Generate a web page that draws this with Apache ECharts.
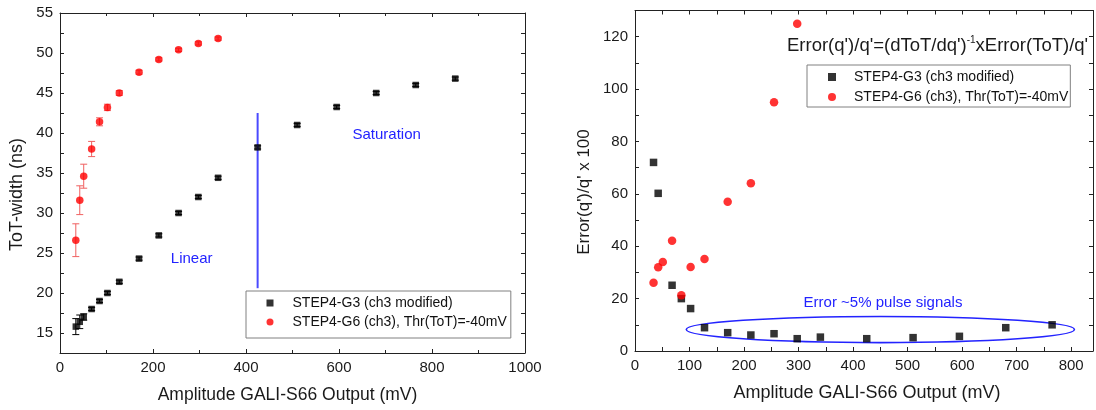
<!DOCTYPE html>
<html><head><meta charset="utf-8">
<script src="https://cdn.jsdelivr.net/npm/echarts@6/dist/echarts.min.js"></script>
<style>html,body{margin:0;padding:0;background:#fff}#c{width:1096px;height:410px}</style>
</head><body><div id="c"></div>
<script>
const seriesNames = ['STEP4-G3 (ch3 modified)', 'STEP4-G6 (ch3), Thr(ToT)=-40mV'];

// Left panel: ToT width (ns) vs amplitude (mV)
const totG3X = [34, 42.5, 51, 68, 85, 102, 127.5, 170, 212.5, 255, 297.5, 340, 425, 510, 595, 680, 765, 850];
const totG3Y = [15.8, 16.4, 17.0, 18.0, 19.0, 20.0, 21.4, 24.3, 27.2, 30.0, 32.0, 34.4, 38.2, 41.0, 43.25, 45.0, 46.0, 46.8];
const totG3Err = [1.0, 0.85, 0.4, 0.2, 0.2, 0.2, 0.2, 0.2, 0.2, 0.2, 0.2, 0.2, 0.2, 0.2, 0.2, 0.2, 0.2, 0.2];
const totG6X = [34, 42.5, 51, 68, 85, 102, 127.5, 170, 212.5, 255, 297.5, 340];
const totG6Y = [26.6, 31.6, 34.6, 38.0, 41.4, 43.2, 45.0, 47.6, 49.2, 50.4, 51.2, 51.8];
const totG6Err = [2.05, 1.8, 1.5, 0.95, 0.5, 0.4, 0.3, 0.25, 0.2, 0.2, 0.2, 0.2];
const boundaryLine = [[425, 20.6], [425, 42.5]];

// Right panel: Error(q')/q' x 100 vs amplitude (mV)
const errG3X = [34, 42.5, 68, 85, 102, 127.5, 170, 212.5, 255, 297.5, 340, 425, 510, 595, 680, 765];
const errG3Y = [72.0, 60.2, 25.1, 20.0, 16.2, 8.9, 7.0, 6.1, 6.6, 4.7, 5.3, 4.7, 5.1, 5.6, 8.9, 10.0];
const errG6X = [34, 42.5, 51, 68, 85, 102, 127.5, 170, 212.5, 255, 297.5];
const errG6Y = [26.1, 32.0, 34.0, 42.1, 21.3, 32.1, 35.1, 57.0, 64.0, 95.0, 124.9];
// ellipse: centre x, centre y, half-width, half-height (data units)
const ellipseRegion = [[450, 8.2, 356, 5.0]];

const FONT = '"Liberation Sans", Arial, sans-serif';
const BLUE = '#2323ff';
const zip = (xs, ys) => xs.map((x, i) => [x, ys[i]]);

function errorBars(xs, ys, errs, color, gi) {
  return {
    type: 'custom', xAxisIndex: gi * 2, yAxisIndex: gi * 2, silent: true, z: 1,
    data: xs.map((x, i) => [x, ys[i] - errs[i], ys[i] + errs[i]]),
    encode: { x: 0, y: [1, 2] },
    renderItem: (p, api) => {
      const lo = api.coord([api.value(0), api.value(1)]);
      const hi = api.coord([api.value(0), api.value(2)]);
      const w = 3.5, st = { stroke: color, lineWidth: 1 };
      return { type: 'group', children: [
        { type: 'line', shape: { x1: lo[0], y1: lo[1], x2: hi[0], y2: hi[1] }, style: st },
        { type: 'line', shape: { x1: lo[0] - w, y1: lo[1], x2: lo[0] + w, y2: lo[1] }, style: st },
        { type: 'line', shape: { x1: hi[0] - w, y1: hi[1], x2: hi[0] + w, y2: hi[1] }, style: st }
      ] };
    }
  };
}

function axis(base, pos, showLabel, extra) {
  return Object.assign({
    type: 'value', position: pos, scale: false,
    axisLine: { show: true, onZero: false, lineStyle: { color: '#222', width: 1 } },
    axisTick: { show: true, inside: true, length: 4, lineStyle: { color: '#222' } },
    splitLine: { show: false },
    axisLabel: { show: showLabel, fontFamily: FONT, fontSize: 15, color: '#1a1a1a' }
  }, base, extra || {});
}

const lx = { gridIndex: 0, min: 0, max: 1000, interval: 200,
  minorTick: { show: true, splitNumber: 2, length: 3, lineStyle: { color: '#222' } } };
const ly = { gridIndex: 0, min: 12.5, max: 55, interval: 2.5 };
const rx = { gridIndex: 1, min: 0, max: 840, interval: 50 };
const ry = { gridIndex: 1, min: 0, max: 130, interval: 10 };

const option = {
  animation: false,
  backgroundColor: '#fff',
  grid: [
    { left: 60, top: 13, width: 465, height: 340 },
    { left: 635, top: 10.5, width: 459, height: 340.5 }
  ],
  xAxis: [
    axis(lx, 'bottom', true, { axisLabel: { show: true, fontFamily: FONT, fontSize: 15, color: '#1a1a1a', margin: 7,
      formatter: v => String(v) } }),
    axis(lx, 'top', false),
    axis(rx, 'bottom', true, { axisLabel: { show: true, fontFamily: FONT, fontSize: 15, color: '#1a1a1a', margin: 7,
      formatter: v => (v % 100 === 0 ? String(v) : '') } }),
    axis(rx, 'top', false)
  ],
  yAxis: [
    axis(ly, 'left', true, { axisLabel: { show: true, fontFamily: FONT, fontSize: 15, color: '#1a1a1a', margin: 7,
      formatter: v => (Math.abs(v % 5) < 1e-9 ? String(v) : '') } }),
    axis(ly, 'right', false),
    axis(ry, 'left', true, { axisLabel: { show: true, fontFamily: FONT, fontSize: 15, color: '#1a1a1a', margin: 7,
      formatter: v => (v % 20 === 0 && v <= 120 ? String(v) : '') } }),
    axis(ry, 'right', false)
  ],
  legend: [
    { left: 246, top: 291, orient: 'vertical', selectedMode: false,
      itemWidth: 7, itemHeight: 7, itemGap: 5, padding: [5, 4, 9, 20.5],
      borderColor: '#808080', borderWidth: 1, backgroundColor: '#fff',
      data: [{ name: seriesNames[0], icon: 'rect' }, { name: seriesNames[1], icon: 'circle' }],
      textStyle: { fontFamily: FONT, fontSize: 14, color: '#111', lineHeight: 14, padding: [0, 0, 0, 14] } },
    { left: 807, top: 65, orient: 'vertical', selectedMode: false,
      itemWidth: 8, itemHeight: 8, itemGap: 6, padding: [5, 2, 3, 21],
      borderColor: '#808080', borderWidth: 1, backgroundColor: '#fff',
      data: [{ name: seriesNames[0], icon: 'rect' }, { name: seriesNames[1], icon: 'circle' }],
      textStyle: { fontFamily: FONT, fontSize: 14, color: '#111', lineHeight: 14, padding: [0, 0, 0, 13] } }
  ],
  series: [
    { type: 'line', xAxisIndex: 0, yAxisIndex: 0, data: boundaryLine, symbol: 'none', silent: true, z: 1,
      lineStyle: { color: '#4a4aff', width: 2 } },
    errorBars(totG3X, totG3Y, totG3Err, '#000', 0),
    errorBars(totG6X, totG6Y, totG6Err, '#f06060', 0),
    { name: seriesNames[0], type: 'scatter', xAxisIndex: 0, yAxisIndex: 0, symbol: 'rect', symbolSize: 6.5,
      itemStyle: { color: '#000' }, data: zip(totG3X, totG3Y), z: 3 },
    { name: seriesNames[1], type: 'scatter', xAxisIndex: 0, yAxisIndex: 0, symbol: 'circle', symbolSize: 7.5,
      itemStyle: { color: '#ff0000' }, data: zip(totG6X, totG6Y), z: 3 },
    { type: 'custom', xAxisIndex: 2, yAxisIndex: 2, silent: true, z: 1, data: ellipseRegion,
      encode: { x: 0, y: 1 },
      renderItem: (p, api) => {
        const c = api.coord([api.value(0), api.value(1)]);
        const s = api.size([api.value(2), api.value(3)]);
        return { type: 'ellipse', shape: { cx: c[0], cy: c[1], rx: s[0], ry: s[1] },
          style: { fill: 'none', stroke: BLUE, lineWidth: 1.6 } };
      } },
    { name: seriesNames[0], type: 'scatter', xAxisIndex: 2, yAxisIndex: 2, symbol: 'rect', symbolSize: 7.5,
      itemStyle: { color: '#000' }, data: zip(errG3X, errG3Y), z: 3 },
    { name: seriesNames[1], type: 'scatter', xAxisIndex: 2, yAxisIndex: 2, symbol: 'circle', symbolSize: 8.5,
      itemStyle: { color: '#ff0000' }, data: zip(errG6X, errG6Y), z: 3 }
  ],
  graphic: [
    { type: 'text', x: 17, y: 194.5, rotation: Math.PI / 2,
      style: { text: 'ToT-width (ns)', font: '18px ' + FONT, fill: '#1a1a1a', align: 'center', verticalAlign: 'middle' } },
    { type: 'text', x: 287.5, y: 395,
      style: { text: 'Amplitude GALI-S66 Output (mV)', font: '17.5px ' + FONT, fill: '#1a1a1a', align: 'center', verticalAlign: 'middle' } },
    { type: 'text', x: 584.5, y: 192, rotation: Math.PI / 2,
      style: { text: "Error(q')/q' x 100", font: '17px ' + FONT, fill: '#1a1a1a', align: 'center', verticalAlign: 'middle' } },
    { type: 'text', x: 867, y: 393,
      style: { text: 'Amplitude GALI-S66 Output (mV)', font: '18px ' + FONT, fill: '#1a1a1a', align: 'center', verticalAlign: 'middle' } },
    { type: 'text', x: 191.7, y: 259,
      style: { text: 'Linear', font: '15px ' + FONT, fill: BLUE, align: 'center', verticalAlign: 'middle' } },
    { type: 'text', x: 386.7, y: 135,
      style: { text: 'Saturation', font: '15px ' + FONT, fill: BLUE, align: 'center', verticalAlign: 'middle' } },
    { type: 'text', x: 883, y: 302.7,
      style: { text: 'Error ~5% pulse signals', font: '15px ' + FONT, fill: BLUE, align: 'center', verticalAlign: 'middle' } },
    { type: 'text', x: 787, y: 35,
      style: { text: "{a|Error(q')/q'=(dToT/dq')}{s|-1}{a|xError(ToT)/q'}", align: 'left', verticalAlign: 'top',
        rich: { a: { fontFamily: FONT, fontSize: 18.5, lineHeight: 22, fill: '#1a1a1a', color: '#1a1a1a' },
                s: { fontFamily: FONT, fontSize: 10, lineHeight: 14, verticalAlign: 'top', fill: '#1a1a1a', color: '#1a1a1a' } } } }
  ]
};

const chart = echarts.init(document.getElementById('c'), null, { renderer: 'canvas' });
chart.setOption(option);
</script>
</body></html>
